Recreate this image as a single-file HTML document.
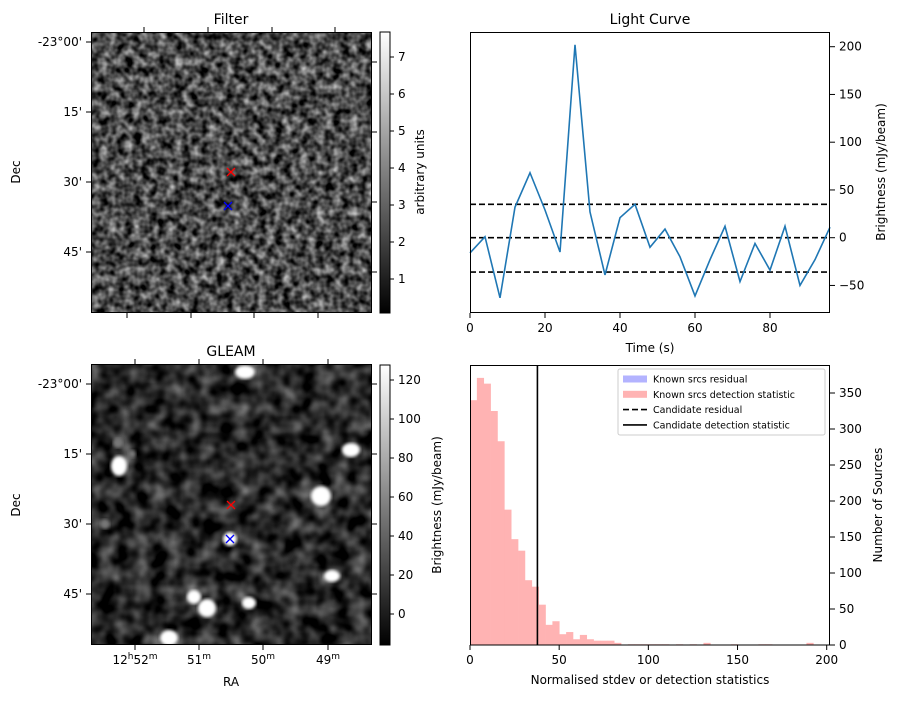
<!DOCTYPE html>
<html><head><meta charset="utf-8"><style>
body{margin:0;background:#fff;font-family:"Liberation Sans","DejaVu Sans",sans-serif}
svg text{font-family:"DejaVu Sans","Liberation Sans",sans-serif;fill:#000}
</style></head><body>
<svg id="fig" width="898" height="699" viewBox="0 0 898 699" xmlns="http://www.w3.org/2000/svg" font-size="12">
<defs>
<filter id="noise1" x="0" y="0" width="100%" height="100%" color-interpolation-filters="sRGB">
<feTurbulence type="fractalNoise" baseFrequency="0.12" numOctaves="2" seed="3"/>
<feColorMatrix type="matrix" values="1.15 0 0 0 -0.28  1.15 0 0 0 -0.28  1.15 0 0 0 -0.28  0 0 0 0 1"/>
</filter>
<filter id="noise2" x="0" y="0" width="100%" height="100%" color-interpolation-filters="sRGB">
<feTurbulence type="fractalNoise" baseFrequency="0.06" numOctaves="2" seed="8"/>
<feColorMatrix type="matrix" values="0.8 0 0 0 -0.24  0.8 0 0 0 -0.24  0.8 0 0 0 -0.24  0 0 0 0 1"/>
</filter>
<filter id="blur"><feGaussianBlur stdDeviation="1.6"/></filter>
<linearGradient id="cb" x1="0" y1="1" x2="0" y2="0"><stop offset="0" stop-color="#000"/><stop offset="1" stop-color="#fff"/></linearGradient>
<clipPath id="clipB"><rect x="91" y="364" width="281" height="281"/></clipPath>
</defs>
<g id="root"></g>
</svg>
<script>
// ---- light curve data ----
const lcTimes=[0,4,8,12,16,20,24,28,32,36,40,44,48,52,56,60,64,68,72,76,80,84,88,92,96];
const lcValues=[-16,1,-63,32,68,29,-15,202,27,-39,21,35,-10,9,-20,-61,-23,12,-46,-6,-34,12,-50,-23,11];
const lcLevels=[35,0,-36];
const lcXTicks=[0,20,40,60,80];
const lcYTicks=[-50,0,50,100,150,200];
// ---- histogram data ----
const histEdges0=0, histBinWidth=3.85;
const histCounts=[340,371,363,325,283,188,147,131,90,81,56,28,33,15,18,8,14,8,6,6,6,3,0,1,1,1,1,1,1,0,1,0,1,0,3,0,0,0,1,0,0,0,1,1,0,0,0,0,0,3];
const candidateStat=[37.8];
const histXTicks=[0,50,100,150,200];
const histYTicks=[0,50,100,150,200,250,300,350];
// ---- image markers ----
const gleamSources=[[245,372,10,7],[119,466,8,10],[351,450,9,7],[321,496,10,10],[230,539,7,7],[332,576,8,6],[194,597,7,7],[207,608,9,9],[249,603,7,6],[169,638,9,8],[118,443,5,5],[132,454,4,4],[105,524,5,5]];
const NS='http://www.w3.org/2000/svg';
const root=document.getElementById('root');
function el(tag,attrs,parent,txt){const e=document.createElementNS(NS,tag);for(const k in attrs)e.setAttribute(k,attrs[k]);if(txt!==undefined)e.textContent=txt;(parent||root).appendChild(e);return e;}

// ---- Filter image ----
let g=el('g',{});


el('rect',{x:91,y:32,width:281,height:281,fill:'#333'},g);
let im=el('rect',{x:91,y:32,width:281,height:281,fill:'#fff',filter:'url(#noise1)'},g);


el('rect',{x:91.5,y:32.5,width:280,height:280,fill:'none',stroke:'#000'},g);
el('text',{x:231,y:24,'text-anchor':'middle','font-size':'14'},g,'Filter');
[[42,'-23°00\''],[112,'15\''],[182,'30\''],[252,'45\'']].forEach(d=>{el('line',{x1:86,x2:91,y1:d[0],y2:d[0],stroke:'#000'},g);el('line',{x1:372,x2:377,y1:d[0]+20,y2:d[0]+20,stroke:'#000'},g);el('text',{x:82,y:d[0]+4,'text-anchor':'end'},g,d[1]);});
[127,191,254,318].forEach(x=>el('line',{x1:x,x2:x,y1:313,y2:318,stroke:'#000'},g));
[144,208,272,335].forEach(x=>el('line',{x1:x,x2:x,y1:27,y2:32,stroke:'#000'},g));
el('text',{x:20,y:172,'text-anchor':'middle',transform:'rotate(-90 20 172)'},g,'Dec');
function cross(x,y,c,p){el('path',{d:`M${x-4},${y-4}L${x+4},${y+4}M${x-4},${y+4}L${x+4},${y-4}`,stroke:c,'stroke-width':1.3},p);}
cross(231,172,'#f00',g);cross(228,206,'#00f',g);
el('rect',{x:380,y:32,width:10,height:281,fill:'url(#cb)',stroke:'#000'},g);
[1,2,3,4,5,6,7].forEach(v=>{const y=279-(v-1)*37;el('line',{x1:390,x2:394,y1:y,y2:y,stroke:'#000'},g);el('text',{x:398,y:y+4},g,String(v));});
el('text',{x:424,y:172,'text-anchor':'middle',transform:'rotate(-90 424 172)'},g,'arbitrary units');

// ---- GLEAM image ----
g=el('g',{});


el('rect',{x:91,y:364,width:281,height:281,fill:'#141414'},g);
let im2=el('rect',{x:91,y:364,width:281,height:281,fill:'#fff',filter:'url(#noise2)'},g);


const sg=el('g',{'clip-path':'url(#clipB)'},g);
gleamSources.forEach(s=>{const c=el('ellipse',{cx:s[0],cy:s[1],rx:s[2],ry:s[3],fill:s[2]<6?'#777':'#fff',filter:'url(#blur)'},sg);});
el('rect',{x:91.5,y:364.5,width:280,height:280,fill:'none',stroke:'#000'},g);
el('text',{x:231,y:356,'text-anchor':'middle','font-size':'14'},g,'GLEAM');
[[384,'-23°00\''],[454,'15\''],[524,'30\''],[594,'45\'']].forEach(d=>{el('line',{x1:86,x2:91,y1:d[0],y2:d[0],stroke:'#000'},g);el('line',{x1:372,x2:377,y1:d[0],y2:d[0],stroke:'#000'},g);el('text',{x:82,y:d[0]+4,'text-anchor':'end'},g,d[1]);});
function raLabel(x,parts){const t=el('text',{x:x,y:664,'text-anchor':'middle'},g);parts.forEach(p=>{const s=el('tspan',p[1]?{'font-size':'9',dy:'-5'}:{dy:p[2]||0},t,p[0]);});return t;}
[135,199,263,328].forEach(x=>{el('line',{x1:x,x2:x,y1:645,y2:650,stroke:'#000'},g);el('line',{x1:x,x2:x,y1:359,y2:364,stroke:'#000'},g);});
raLabel(135,[['12',0],['h',1],['52',0,'5'],['m',1]]);
raLabel(199,[['51',0],['m',1]]);
raLabel(263,[['50',0],['m',1]]);
raLabel(328,[['49',0],['m',1]]);
el('text',{x:231,y:686,'text-anchor':'middle'},g,'RA');
el('text',{x:20,y:505,'text-anchor':'middle',transform:'rotate(-90 20 505)'},g,'Dec');
cross(231,505,'#f00',g);cross(230,539,'#00f',g);
el('rect',{x:380,y:365,width:10,height:280,fill:'url(#cb)',stroke:'#000'},g);
[0,20,40,60,80,100,120].forEach(v=>{const y=614-v*39/20;el('line',{x1:390,x2:394,y1:y,y2:y,stroke:'#000'},g);el('text',{x:398,y:y+4},g,String(v));});
el('text',{x:441,y:505,'text-anchor':'middle',transform:'rotate(-90 441 505)'},g,'Brightness (mJy/beam)');

// ---- Light curve ----
const L={x0:470,x1:830,y0:32,y1:312};
const lx=t=>470+t*3.75, ly=v=>237.7-v*0.955;
g=el('g',{});


el('text',{x:650,y:24,'text-anchor':'middle','font-size':'14'},g,'Light Curve');
lcLevels.forEach(v=>{const l=el('line',{x1:L.x0,x2:L.x1,y1:ly(v),y2:ly(v),stroke:'#000','stroke-width':1.6,'stroke-dasharray':'6,3'},g);});
const pl=el('polyline',{points:lcTimes.map((t,i)=>lx(t)+','+ly(lcValues[i])).join(' '),fill:'none',stroke:'#1f77b4','stroke-width':1.6},g);


el('rect',{x:L.x0+.5,y:L.y0+.5,width:L.x1-L.x0-1,height:L.y1-L.y0,fill:'none',stroke:'#000'},g);
lcXTicks.forEach(t=>{el('line',{x1:lx(t),x2:lx(t),y1:313,y2:318,stroke:'#000'},g);el('text',{x:lx(t),y:332,'text-anchor':'middle'},g,String(t));});
lcYTicks.forEach(v=>{el('line',{x1:830,x2:835,y1:ly(v),y2:ly(v),stroke:'#000'},g);el('text',{x:839,y:ly(v)+4},g,v<0?'−'+(-v):String(v));});
el('text',{x:650,y:352,'text-anchor':'middle'},g,'Time (s)');
el('text',{x:885,y:172,'text-anchor':'middle',transform:'rotate(-90 885 172)'},g,'Brightness (mJy/beam)');

// ---- Histogram ----
const hx=v=>470+v*1.7835, hy=c=>645-c*0.72;
g=el('g',{});


histCounts.forEach((c,i)=>{if(!c)return;const a=histEdges0+i*histBinWidth;const r=el('rect',{x:hx(a),y:hy(c),width:hx(a+histBinWidth)-hx(a)+0.3,height:hy(0)-hy(c),fill:'#ffb3b3'},g);});
candidateStat.forEach(v=>{const l=el('line',{x1:hx(v),x2:hx(v),y1:365,y2:645,stroke:'#000','stroke-width':1.6},g);});
el('rect',{x:470.5,y:365.5,width:359,height:279.5,fill:'none',stroke:'#000'},g);
histXTicks.forEach(v=>{el('line',{x1:hx(v),x2:hx(v),y1:645,y2:650,stroke:'#000'},g);el('text',{x:hx(v),y:664,'text-anchor':'middle'},g,String(v));});
histYTicks.forEach(v=>{el('line',{x1:830,x2:835,y1:hy(v),y2:hy(v),stroke:'#000'},g);el('text',{x:839,y:hy(v)+4},g,String(v));});
el('text',{x:650,y:684,'text-anchor':'middle'},g,'Normalised stdev or detection statistics');
el('text',{x:882,y:505,'text-anchor':'middle',transform:'rotate(-90 882 505)'},g,'Number of Sources');
const lg=el('g',{},g);


el('rect',{x:618,y:369,width:207,height:66,rx:2,fill:'#fff','fill-opacity':0.85,stroke:'#ccc'},lg);
const items=[['Known srcs residual','patch','#b3b3ff'],['Known srcs detection statistic','patch','#ffb3b3'],['Candidate residual','dash'],['Candidate detection statistic','line']];
items.forEach((it,i)=>{const y=379+i*15.3;
 if(it[1]==='patch')el('rect',{x:623,y:y-3.5,width:24,height:7,fill:it[2]},lg);
 else el('line',{x1:623,x2:647,y1:y,y2:y,stroke:'#000','stroke-width':1.6,'stroke-dasharray':it[1]==='dash'?'6,3':'none'},lg);
 const t=el('text',{x:653,y:y+3.5,'font-size':'9.5'},lg,it[0]);
 });
</script>
</body></html>
